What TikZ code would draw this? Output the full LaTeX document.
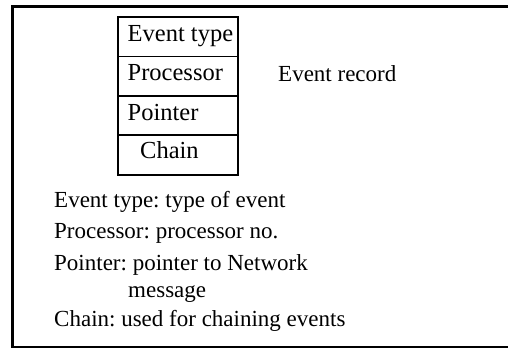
\documentclass[tikz,border=0pt]{standalone}
\usepackage{fontspec}
\setmainfont{Liberation Serif}
\frenchspacing
\begin{document}
\begin{tikzpicture}[x=1pt,y=-1pt,
  txt/.style={anchor=base west,inner sep=0pt,font=\fontsize{23}{28}\selectfont},
  btxt/.style={anchor=base west,inner sep=0pt,font=\fontsize{24.5}{28}\selectfont},
  cell/.style={draw,line width=1.8pt,minimum width=120pt,minimum height=39.4pt,inner sep=0pt,outer sep=0pt},
  frame/.style={draw,line width=2.6pt}]
\useasboundingbox (0,0) rectangle (508,349);
\node[frame,anchor=north west,minimum width=500pt,minimum height=340.5pt,inner sep=0pt,outer sep=0pt] (fr) at (12.5,6.5) {};
\node[cell,anchor=north west] (c1) at (117.7,17) {};
\node[cell,anchor=north] (c2) at (c1.south) {};
\node[cell,anchor=north] (c3) at (c2.south) {};
\node[cell,anchor=north] (c4) at (c3.south) {};
\node[btxt] (t1) at (127.5,41) {Event type};
\node[btxt] (t2) at (127.5,80) {Processor};
\node[btxt] (t3) at (127.5,120) {Pointer};
\node[btxt] (t4) at (140,158) {Chain};
\node[txt] (er) at (278,81.5) {Event record};
\node[txt] (d1) at (54,207.5) {Event type: type of event};
\node[txt] (d2) at (54,238.5) {Processor: processor no.};
\node[txt] (d3) at (54,270) {Pointer: pointer to Network};
\node[txt] (d3b) at (128,297.5) {message};
\node[txt] (d4) at (54,326) {Chain: used for chaining events};
\end{tikzpicture}
\end{document}
